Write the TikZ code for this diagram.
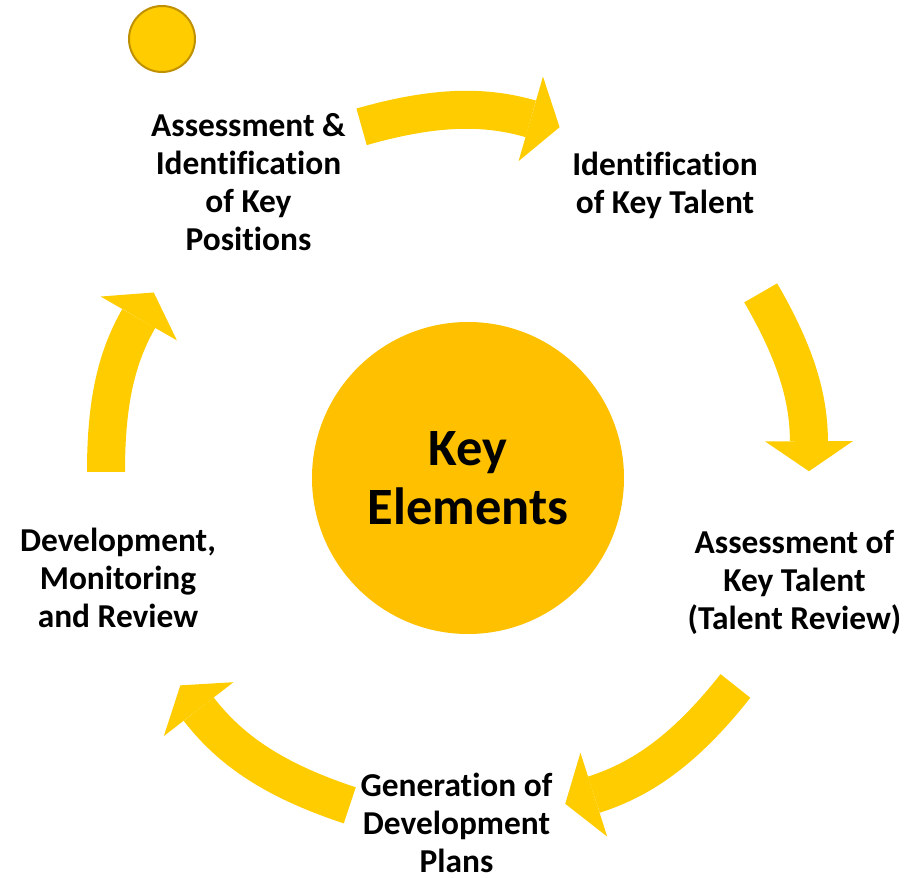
\documentclass[tikz,border=0pt]{standalone}
\usepackage{fontspec}
\setmainfont{Carlito}[Ligatures=NoCommon]
\usetikzlibrary{arrows.meta}

\definecolor{arrowgold}{HTML}{FFCC00}
\definecolor{hubgold}{HTML}{FFC000}
\definecolor{rimgold}{HTML}{BF9000}

\begin{document}
\begin{tikzpicture}[
x=0.5pt, y=0.5pt,
element/.style={align=center, inner sep=0pt, font=\fontsize{16.7}{19}\selectfont\bfseries},
hub/.style={circle, fill=hubgold, minimum size=156pt, inner sep=0pt, align=center,
    font=\fontsize{26.2}{29.5}\selectfont\bfseries},
cyclearrow/.style={arrowgold, line width=19pt,
    -{Triangle[length=15pt, width=44pt, line width=0pt]}}
]
\useasboundingbox (-460,-407) rectangle (449,470);

\node (dot) [circle, fill=arrowgold, draw=rimgold, line width=1pt, minimum size=33pt] at (-298,431) {};
\node (hub) [hub] at (8,-8) {Key\\Elements};

% the five steps, clockwise from top left
\node (positions) [element] at (-211.5,287.5) {Assessment \&\\Identification\\of Key\\Positions};
\node (talent) [element] at (205,285) {Identification\\of Key Talent};
\node (review) [element] at (334.5,-112) {Assessment of\\Key Talent\\(Talent Review)};
\node (plans) [element] at (-3.5,-353) {Generation of\\Development\\Plans};
\node (monitoring) [element] at (-342,-108) {Development,\\Monitoring\\and Review};

% arrow ends on the ring
\coordinate (t1) at (106:357);    \coordinate (h1) at (73.8:357);
\coordinate (t2) at (30.5:349);   \coordinate (h2) at (-0.2:349);
\coordinate (t3) at (-38.1:350);  \coordinate (h3) at (-72.5:350);
\coordinate (t4) at (-108.2:353); \coordinate (h4) at (-142.4:353);
\coordinate (t5) at (180.3:354);  \coordinate (h5) at (149.9:354);

\draw[cyclearrow] (t1) to[bend left=16] (h1);
\draw[cyclearrow] (t2) to[bend left=15] (h2);
\draw[cyclearrow] (t3) to[bend left=17] (h3);
\draw[cyclearrow] (t4) to[bend left=17] (h4);
\draw[cyclearrow] (t5) to[bend left=15] (h5);
\end{tikzpicture}
\end{document}
